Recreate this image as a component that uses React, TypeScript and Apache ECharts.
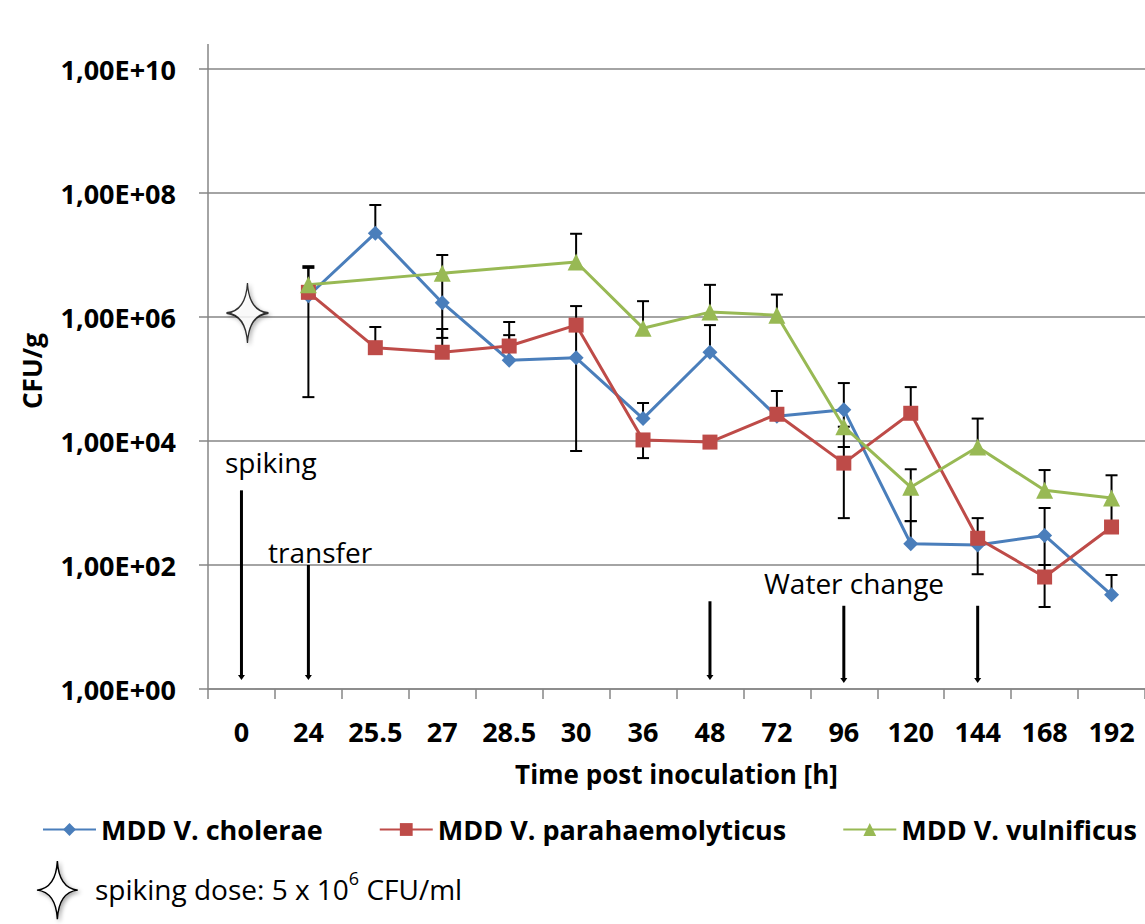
import React, { useEffect, useRef } from "react";
import * as echarts from "echarts";

const categories = ["0", "24", "25.5", "27", "28.5", "30", "36", "48", "72", "96", "120", "144", "168", "192"];

const seriesNames = ["MDD V. cholerae", "MDD V. parahaemolyticus", "MDD V. vulnificus"];

const cholerae = [null, 2.2e6, 2.25e7, 1.7e6, 2.0e5, 2.2e5, 2.3e4, 2.7e5, 2.5e4, 3.2e4, 2.2e2, 2.1e2, 3.0e2, 33];
const parahaemolyticus = [null, 2.5e6, 3.2e5, 2.7e5, 3.4e5, 7.4e5, 1.04e4, 9.6e3, 2.7e4, 4.4e3, 2.8e4, 2.7e2, 64, 4.1e2];
const vulnificus = [null, 3.3e6, null, 5.1e6, null, 7.7e6, 6.6e5, 1.2e6, 1.07e6, 1.7e4, 1.8e3, 8.0e3, 1.6e3, 1.2e3];

const choleraeHigh = [null, 6.2e6, 6.4e7, 5.1e6, 5.1e5, 7.4e5, 4.1e4, 7.4e5, null, 8.6e4, 5.1e2, null, 8.3e2, 69];
const choleraeLow = [null, 5.1e4, null, 4.6e5, null, 6.9e3, null, null, null, 1.7e4, null, 71, 1.0e2, null];
const paraHigh = [null, 6.6e6, 6.9e5, 6.4e5, 8.3e5, 1.5e6, null, null, 6.4e4, 8.0e3, 7.4e4, 5.7e2, 1.0e2, null];
const paraLow = [null, null, null, null, null, null, 5.3e3, null, null, 5.7e2, null, null, 21, null];
const vulnHigh = [null, null, null, 1.0e7, null, 2.2e7, 1.8e6, 3.3e6, 2.3e6, null, 3.5e3, 2.3e4, 3.4e3, 2.8e3];
const vulnLow = [null, null, null, null, null, null, null, null, null, 8.0e3, 5.1e2, null, null, 5.0e2];

// annotation arrows: [category index, top value, bottom value]
const arrows = [
  [0, 1.6e3, 1.4],
  [1, 100, 1.4],
  [7, 26, 1.4],
  [9, 22, 1.25],
  [11, 22, 1.25],
];

const spikeMarker = [[0, 1.16e6]];

const yTickExponents = [0, 2, 4, 6, 8, 10];

const colors = ["#4A7EBB", "#BE4B48", "#98B954"];
const STAR_D = "M21,0 Q22.5,28 42,30 Q22.5,32 21,60 Q19.5,32 0,30 Q19.5,28 21,0 Z";
const FONT = "Open Sans";

let registered = false;

function buildErrorData() {
  const out: any[] = [];
  const sets = [
    [cholerae, choleraeLow, choleraeHigh],
    [parahaemolyticus, paraLow, paraHigh],
    [vulnificus, vulnLow, vulnHigh],
  ];
  sets.forEach(([vals, lo, hi]) => {
    vals.forEach((v, i) => {
      if (v == null) return;
      const l = lo[i];
      const h = hi[i];
      if (l == null && h == null) return;
      out.push([i, l ?? v, h ?? v, h != null ? 1 : 0, l != null ? 1 : 0]);
    });
  });
  return out;
}

export default function App() {
  const ref = useRef<HTMLDivElement>(null);
  useEffect(() => {
    if (!ref.current) return;
    if (!registered) {
      echarts.graphic.registerShape("star4", echarts.graphic.extendPath(STAR_D, {}));
      registered = true;
    }
    const chart = echarts.init(ref.current, null, { renderer: "svg" });
    const gray = "#868686";
    const option: any = {
      animation: false,
      textStyle: { fontFamily: FONT },
      grid: { left: 208, top: 69, width: 946.4, height: 620 },
      xAxis: {
        type: "category",
        data: categories,
        boundaryGap: true,
        name: "Time post inoculation [h]",
        nameLocation: "middle",
        nameGap: 72,
        nameTextStyle: { fontWeight: "bold", fontSize: 26, color: "#000", fontFamily: FONT },
        axisLine: { lineStyle: { color: gray, width: 1.5 } },
        axisTick: { show: true, length: 10, interval: 0, lineStyle: { color: gray, width: 1.5 } },
        axisLabel: { interval: 0, margin: 29, fontWeight: "bold", fontSize: 27, color: "#000", fontFamily: FONT },
        splitLine: { show: false },
      },
      yAxis: {
        type: "log",
        logBase: 100,
        min: Math.pow(10, yTickExponents[0]),
        max: Math.pow(10, yTickExponents[yTickExponents.length - 1]),
        splitNumber: 5,
        name: "CFU/g",
        nameLocation: "middle",
        nameGap: 163,
        nameTextStyle: { fontWeight: "bold", fontSize: 26, color: "#000", fontFamily: FONT, padding: [0, 0, 0, 16] },
        axisLine: { show: true, lineStyle: { color: gray, width: 1.5 } },
        axisTick: { show: true, length: 9, lineStyle: { color: gray, width: 1.5 } },
        minorTick: { show: false },
        axisLabel: {
          margin: 32,
          fontWeight: "bold",
          fontSize: 27,
          color: "#000",
          fontFamily: FONT,
          formatter: (v: number) => "1,00E+" + String(Math.round(Math.log10(v))).padStart(2, "0"),
        },
        splitLine: { show: true, lineStyle: { color: gray, width: 1.5 } },
      },
      legend: {
        data: seriesNames,
        left: 42,
        top: 816,
        width: 1103,
        padding: 0,
        itemWidth: 53,
        itemHeight: 16,
        itemGap: 56,
        textStyle: { fontWeight: "bold", fontSize: 27, color: "#000", fontFamily: FONT },
      },
      graphic: [
        { type: "line", shape: { x1: 208, y1: 44, x2: 208, y2: 69 }, style: { stroke: gray, lineWidth: 1.5 } },
        { type: "text", left: 225, top: 448, style: { text: "spiking", fontSize: 28, fontFamily: FONT, fill: "#000" } },
        { type: "text", left: 268, top: 538, style: { text: "transfer", fontSize: 28, fontFamily: FONT, fill: "#000" } },
        { type: "text", left: 764, top: 569, style: { text: "Water change", fontSize: 28, fontFamily: FONT, fill: "#000" } },
        {
          type: "star4",
          x: 37,
          y: 861,
          scaleX: 0.97,
          scaleY: 0.97,
          style: { fill: "#fff", stroke: "#000", lineWidth: 1.5, shadowBlur: 4, shadowColor: "rgba(0,0,0,0.35)", shadowOffsetX: 2, shadowOffsetY: 2 },
        },
        {
          type: "text",
          left: 95,
          top: 869,
          style: {
            text: "{a|spiking dose: 5 x 10}{s|6}{a| CFU/ml}",
            fill: "#000",
            rich: {
              a: { fontSize: 28, fontFamily: FONT, fill: "#000", lineHeight: 34, verticalAlign: "bottom" },
              s: { fontSize: 18, fontFamily: FONT, fill: "#000", lineHeight: 34, verticalAlign: "top" },
            },
          },
        },
      ],
      series: [
        {
          name: "errors",
          type: "custom",
          z: 1,
          data: buildErrorData(),
          renderItem: (params: any, api: any) => {
            const i = api.value(0);
            const pLo = api.coord([i, api.value(1)]);
            const pHi = api.coord([i, api.value(2)]);
            const st = { stroke: "#000", lineWidth: 2 };
            const children: any[] = [
              { type: "line", shape: { x1: pHi[0], y1: pHi[1], x2: pLo[0], y2: pLo[1] }, style: st },
            ];
            if (api.value(3)) children.push({ type: "line", shape: { x1: pHi[0] - 6, y1: pHi[1], x2: pHi[0] + 6, y2: pHi[1] }, style: st });
            if (api.value(4)) children.push({ type: "line", shape: { x1: pLo[0] - 6, y1: pLo[1], x2: pLo[0] + 6, y2: pLo[1] }, style: st });
            return { type: "group", children };
          },
        },
        {
          name: "arrows",
          type: "custom",
          z: 1,
          data: arrows,
          renderItem: (params: any, api: any) => {
            const i = api.value(0);
            const top = api.coord([i, api.value(1)]);
            const bot = api.coord([i, api.value(2)]);
            const x = top[0];
            return {
              type: "group",
              children: [
                {
                  type: "rect",
                  shape: { x: x - 1.5, y: top[1], width: 3, height: bot[1] - 3 - top[1] },
                  style: { fill: "#000" },
                },
                {
                  type: "polygon",
                  shape: { points: [[x - 3.5, bot[1] - 5], [x + 3.5, bot[1] - 5], [x, bot[1]]] },
                  style: { fill: "#000" },
                },
              ],
            };
          },
        },
        {
          name: "spike",
          type: "scatter",
          z: 3,
          data: spikeMarker,
          symbol: "path://" + STAR_D,
          symbolSize: [42, 60],
          symbolOffset: [6, 0],
          itemStyle: { color: "#fff", borderColor: "#000", borderWidth: 1.5, shadowBlur: 4, shadowColor: "rgba(0,0,0,0.35)", shadowOffsetX: 2, shadowOffsetY: 2 },
        },
        {
          name: seriesNames[0],
          type: "line",
          z: 2,
          data: cholerae,
          connectNulls: true,
          symbol: "diamond",
          symbolSize: 15,
          itemStyle: { color: colors[0] },
          lineStyle: { color: colors[0], width: 3 },
        },
        {
          name: seriesNames[1],
          type: "line",
          z: 2,
          data: parahaemolyticus,
          connectNulls: true,
          symbol: "rect",
          symbolSize: 15,
          itemStyle: { color: colors[1] },
          lineStyle: { color: colors[1], width: 3 },
        },
        {
          name: seriesNames[2],
          type: "line",
          z: 2,
          data: vulnificus,
          connectNulls: true,
          symbol: "triangle",
          symbolSize: 17,
          itemStyle: { color: colors[2] },
          lineStyle: { color: colors[2], width: 3 },
        },
      ],
    };
    chart.setOption(option);
    return () => chart.dispose();
  }, []);
  return <div ref={ref} style={{ position: "fixed", left: 0, top: 0, width: 1145, height: 924, background: "#fff" }} />;
}
